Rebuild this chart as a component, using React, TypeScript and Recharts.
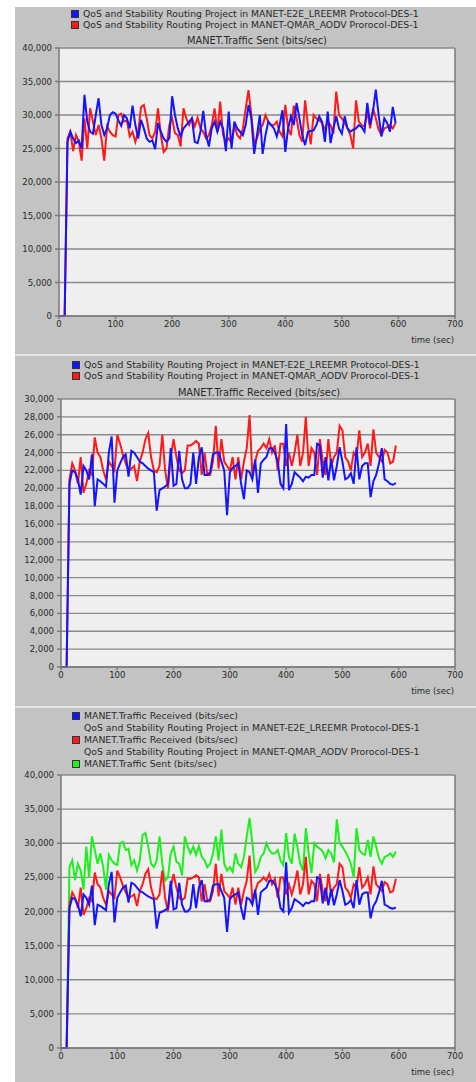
import { LineChart, Line, XAxis, YAxis, CartesianGrid, ReferenceLine } from 'recharts';

// sample times (sec)
const TIME = [
  0, 5, 10, 15, 20, 25, 30, 35, 40, 45, 50, 55, 60, 65, 70, 75, 80, 85, 90, 95,
  100, 105, 110, 115, 120, 125, 130, 135, 140, 145, 150, 155, 160, 165, 170, 175, 180, 185, 190, 195,
  200, 205, 210, 215, 220, 225, 230, 235, 240, 245, 250, 255, 260, 265, 270, 275, 280, 285, 290, 295,
  300, 305, 310, 315, 320, 325, 330, 335, 340, 345, 350, 355, 360, 365, 370, 375, 380, 385, 390, 395,
  400, 405, 410, 415, 420, 425, 430, 435, 440, 445, 450, 455, 460, 465, 470, 475, 480, 485, 490, 495,
  500, 505, 510, 515, 520, 525, 530, 535, 540, 545, 550, 555, 560, 565, 570, 575, 580, 585, 590, 595,
];

// MANET.Traffic Sent - E2E_LREEMR (blue, panel 1)
const SENT_E2E = [
  0, 0, 0, 26000, 27500, 26500, 25800, 26200, 25000, 33000, 29000, 27500, 27200, 30000, 32500, 28500, 27000, 28000, 30000, 30400,
  30200, 29200, 28400, 30000, 29500, 28000, 31400, 28500, 26500, 29300, 28000, 26500, 26000, 26200, 24900, 28800, 27500, 26500, 26000, 26500,
  32800, 30000, 28000, 26800, 28000, 28500, 29000, 29500, 26000, 25800, 27500, 30600, 27000, 25300, 28000, 29000, 27500, 29000, 28000, 24600,
  30500, 25000, 29000, 28000, 27500, 27000, 28500, 31500, 29500, 24200, 27000, 30000, 24200, 27000, 29000, 28500, 28000, 26800, 28500, 30700,
  24500, 28000, 29800, 28500, 31800, 29500, 27000, 25500, 27500, 27600, 27700, 28500, 29800, 29000, 26000, 30500, 25800, 28000, 29800, 28000,
  27200, 29800, 28000, 27500, 27800, 28000, 28500, 28200, 27500, 31800, 28500, 30500, 33800, 30000, 26800, 29500, 28800, 27500, 31200, 28800,
];

// MANET.Traffic Sent - QMAR_AODV (red in panel 1, green in panel 3)
const SENT_QMAR = [
  0, 0, 0, 26500, 27500, 24600, 27000, 26000, 23200, 29500, 25000, 31000, 29000, 27000, 28500, 26500, 23200, 28300, 27500, 27000,
  26800, 30000, 30200, 29000, 29200, 26800, 27500, 26000, 27500, 31200, 31500, 29500, 27000, 26500, 27500, 31000, 27000, 24500, 25000, 28500,
  29500, 27300, 27000, 25300, 31000, 29500, 28500, 29500, 28300, 29600, 28000, 27500, 26500, 27000, 28500, 31000, 27500, 32000, 27000, 26000,
  26500, 25800, 28500, 27000, 26500, 28000, 31000, 33700, 30000, 25800, 26500, 28000, 28500, 30000, 29000, 28500, 28500, 29000, 27500, 26800,
  31500, 28000, 27000, 31400, 29500, 27000, 26000, 32200, 28500, 25600, 30000, 29500, 29200, 28800, 27800, 29000, 28500, 27200, 33500, 30000,
  29500, 28800, 28000, 27000, 25000, 32200, 29000, 28500, 28300, 30500, 28000, 31000, 29500, 27800, 27000, 28000, 28200, 28500, 28000, 28800,
];

// MANET.Traffic Received - E2E_LREEMR (blue, panels 2 and 3)
const RECV_E2E = [
  0, 0, 0, 20500, 22000, 21800, 21000, 19300, 22500, 22000, 21000, 23800, 18000, 21000, 20800, 20500, 20200, 24000, 25800, 18400,
  22000, 22800, 23500, 23800, 21300, 24200, 24000, 23500, 23000, 22800, 22500, 22200, 22000, 21800, 17500, 19800, 20000, 20200, 20500, 24500,
  20300, 20500, 24200, 21000, 20000, 20000, 20500, 24000, 20500, 23500, 24600, 21500, 21500, 21800, 23800, 24000, 24000, 23000, 22000, 17000,
  21800, 22300, 22500, 22800, 20500, 18800, 22000, 21800, 21000, 23200, 19500, 22800, 23200, 23500, 24500, 24500, 24000, 23000, 20500, 20000,
  27200, 19800, 20500, 21800, 21500, 21200, 20800, 21300, 21200, 21500, 21500, 25000, 24800, 21200, 23500, 20900, 23300, 20900, 22500, 24600,
  23000, 21000, 21200, 21700, 20500, 24600, 21000, 22500, 22800, 22800, 19000, 20800, 21500, 22800, 24500, 21000, 20800, 20500, 20400, 20600,
];

// MANET.Traffic Received - QMAR_AODV (red, panels 2 and 3)
const RECV_QMAR = [
  0, 0, 0, 21000, 22800, 22000, 20500, 23500, 19500, 20500, 22000, 21500, 25700, 24000, 23500, 22000, 21000, 23000, 22500, 22000,
  26000, 25000, 23800, 22800, 22000, 22200, 22500, 20800, 23000, 24000, 25500, 26200, 23500, 22000, 21800, 22500, 26000, 22000, 20000, 23500,
  25500, 23500, 22000, 21700, 22000, 24800, 24800, 25000, 25300, 25000, 21500, 24000, 21500, 21500, 23000, 27000, 22200, 25500, 23000, 22500,
  22000, 23500, 21000, 23500, 21000, 23000, 24500, 28200, 21500, 23000, 24200, 24500, 25000, 24500, 25500, 24000, 24800, 22000, 25000, 25000,
  22500, 24000, 22500, 24000, 26000, 22500, 24000, 28000, 22500, 24500, 24000, 21500, 25500, 23000, 21500, 25500, 22500, 23500, 24000, 27000,
  26500, 23500, 23000, 22000, 24000, 23500, 26500, 23500, 24000, 25000, 22500, 26600, 24000, 23500, 23000, 24300, 24000, 22800, 23000, 24800,
];

const X_TICKS = [0, 100, 200, 300, 400, 500, 600, 700];
const Y_TICKS_40K = [0, 5000, 10000, 15000, 20000, 25000, 30000, 35000, 40000];
const Y_TICKS_30K = [0, 2000, 4000, 6000, 8000, 10000, 12000, 14000, 16000, 18000, 20000, 22000, 24000, 26000, 28000, 30000];

const NAME_E2E = 'QoS and Stability Routing Project in MANET-E2E_LREEMR Protocol-DES-1';
const NAME_QMAR = 'QoS and Stability Routing Project in MANET-QMAR_AODV Prorocol-DES-1';

const BLUE = '#1414ff';
const RED = '#ff1a1a';
const GREEN = '#1ef01e';

const rows = TIME.map((t, i) => ({
  t,
  sentE2E: SENT_E2E[i],
  sentQMAR: SENT_QMAR[i],
  recvE2E: RECV_E2E[i],
  recvQMAR: RECV_QMAR[i],
}));

const FONT = '"DejaVu Sans", Verdana, sans-serif';
const FS = 8.5; // axis ticks
const LEGEND_FS = 9.3;
const TITLE_FS = 9.8;
const TEXT = '#2a2a2a';

interface LegendRow {
  text: string;
  color?: string;
}

interface PanelProps {
  top: number;
  height: number;
  plotTop: number;
  axisHeight: number;
  yWidth: number;
  yMax: number;
  yTicks: number[];
  legend: LegendRow[];
  legendTop: number;
  legendStep: number;
  legendX: number;
  title?: string;
  titleTop?: number;
  series: { key: string; color: string }[];
}

function Panel(p: PanelProps) {
  return (
    <div style={{ position: 'absolute', left: 15, top: p.top, width: 461, height: p.height }}>
      {p.legend.map((r, i) => (
        <div
          key={i}
          style={{
            position: 'absolute',
            left: p.legendX,
            top: p.legendTop + i * p.legendStep,
            height: 11,
            lineHeight: '11px',
            fontFamily: FONT,
            fontSize: LEGEND_FS,
            color: TEXT,
            whiteSpace: 'nowrap',
          }}
        >
          {r.color && (
            <span
              style={{
                position: 'absolute',
                left: -12,
                top: 2,
                width: 6,
                height: 6,
                background: r.color,
                border: '1px solid #333',
              }}
            />
          )}
          {r.text}
        </div>
      ))}
      {p.title && (
        <div
          style={{
            position: 'absolute',
            left: p.yWidth,
            width: 396,
            top: p.titleTop,
            textAlign: 'center',
            lineHeight: '11px',
            fontFamily: FONT,
            fontSize: TITLE_FS,
            color: TEXT,
            whiteSpace: 'nowrap',
          }}
        >
          {p.title}
        </div>
      )}
      <div
        style={{
          position: 'absolute',
          right: 22,
          bottom: p.axisHeight - 30,
          fontFamily: FONT,
          fontSize: FS,
          lineHeight: '11px',
          color: TEXT,
        }}
      >
        time (sec)
      </div>
      <LineChart
        width={461}
        height={p.height}
        data={rows}
        margin={{ top: p.plotTop, right: 21, left: 0, bottom: 0 }}
        style={{ position: 'absolute', left: 0, top: 0 }}
      >
        <CartesianGrid vertical={false} stroke="#8a8a8a" strokeWidth={1.3} fill="#efefef" fillOpacity={1} />
        <XAxis
          dataKey="t"
          type="number"
          domain={[0, 700]}
          ticks={X_TICKS}
          height={p.axisHeight}
          stroke="#7a7a7a"
          strokeWidth={1.5}
          tickSize={3}
          tickMargin={2}
          tick={{ fill: TEXT, fontSize: FS, fontFamily: FONT }}
        />
        <YAxis
          type="number"
          domain={[0, p.yMax]}
          ticks={p.yTicks}
          width={p.yWidth}
          stroke="#7a7a7a"
          strokeWidth={1.5}
          tickSize={4}
          tickMargin={3}
          interval={0}
          tick={{ fill: TEXT, fontSize: FS, fontFamily: FONT }}
          tickFormatter={(v: number) => v.toLocaleString('en-US')}
        />
        <ReferenceLine x={700} stroke="#7a7a7a" strokeWidth={1.5} />
        {p.series.map((s) => (
          <Line
            key={s.key}
            type="linear"
            dataKey={s.key}
            stroke={s.color}
            strokeWidth={2}
            dot={false}
            isAnimationActive={false}
          />
        ))}
      </LineChart>
    </div>
  );
}

export default function App() {
  return (
    <div style={{ position: 'absolute', left: 0, top: 0, width: 476, height: 1082, background: '#fff', overflow: 'hidden' }}>
      <div style={{ position: 'absolute', left: 15, top: 7, width: 461, height: 1075, background: '#c3c3c3' }} />
      <div style={{ position: 'absolute', left: 15, top: 354, width: 461, height: 2, background: '#e4e4e4' }} />
      <div style={{ position: 'absolute', left: 15, top: 706, width: 461, height: 2, background: '#e4e4e4' }} />
      <Panel
        top={7}
        height={347}
        plotTop={41}
        axisHeight={38}
        yWidth={44}
        yMax={40000}
        yTicks={Y_TICKS_40K}
        legend={[
          { text: NAME_E2E, color: BLUE },
          { text: NAME_QMAR, color: RED },
        ]}
        legendTop={1}
        legendStep={11}
        legendX={68}
        title="MANET.Traffic Sent (bits/sec)"
        titleTop={28}
        series={[
          { key: 'sentQMAR', color: RED },
          { key: 'sentE2E', color: BLUE },
        ]}
      />
      <Panel
        top={357}
        height={348}
        plotTop={42}
        axisHeight={38}
        yWidth={46}
        yMax={30000}
        yTicks={Y_TICKS_30K}
        legend={[
          { text: NAME_E2E, color: BLUE },
          { text: NAME_QMAR, color: RED },
        ]}
        legendTop={2}
        legendStep={11}
        legendX={69}
        title="MANET.Traffic Received (bits/sec)"
        titleTop={30}
        series={[
          { key: 'recvQMAR', color: RED },
          { key: 'recvE2E', color: BLUE },
        ]}
      />
      <Panel
        top={708}
        height={374}
        plotTop={67}
        axisHeight={34}
        yWidth={46}
        yMax={40000}
        yTicks={Y_TICKS_40K}
        legend={[
          { text: 'MANET.Traffic Received (bits/sec)', color: BLUE },
          { text: NAME_E2E },
          { text: 'MANET.Traffic Received (bits/sec)', color: RED },
          { text: NAME_QMAR },
          { text: 'MANET.Traffic Sent (bits/sec)', color: GREEN },
        ]}
        legendTop={2}
        legendStep={12}
        legendX={69}
        series={[
          { key: 'sentQMAR', color: GREEN },
          { key: 'recvQMAR', color: RED },
          { key: 'recvE2E', color: BLUE },
        ]}
      />
    </div>
  );
}
